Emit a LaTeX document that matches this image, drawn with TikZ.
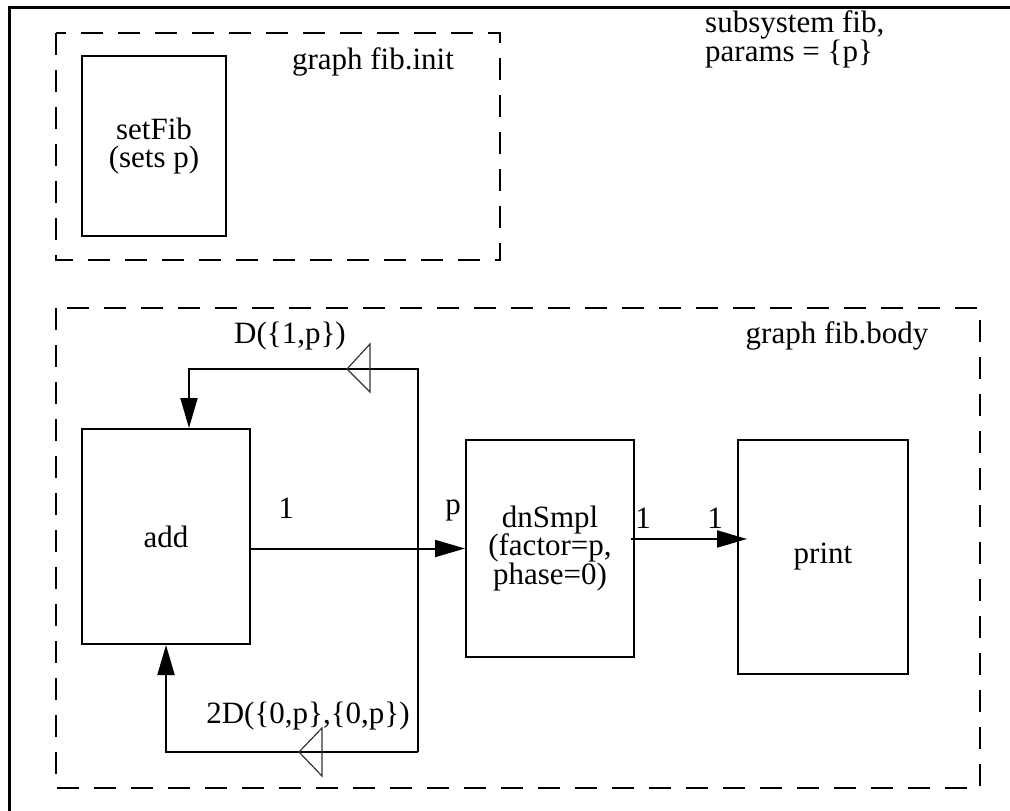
\documentclass[tikz,border=0pt]{standalone}
\usepackage{fontspec}
\setmainfont{Liberation Serif}
\usetikzlibrary{arrows.meta}
\begin{document}
\begin{tikzpicture}[x=1pt,y=-1pt,
  every node/.style={font=\fontsize{31}{28.5}\selectfont},
  blk/.style={draw,line width=2pt,inner sep=0pt,align=center},
  grp/.style={draw,line width=2.5pt,dash pattern=on 22pt off 15pt},
  arr/.style={line width=2pt,-{Triangle[length=30pt,width=17pt]}},
  delay/.style={line width=1.2pt,draw=black!80},
  lbl/.style={inner sep=0pt}
]
\useasboundingbox (0,0) rectangle (1010,811);
\clip (0,0) rectangle (1010,811);
% outer frame
\draw[line width=3pt] (9,830) -- (9,7) -- (1030,7);
% subsystem label
\node[lbl,anchor=north west,align=left,font=\fontsize{31}{25}\selectfont] (sub) at (705,10) {subsystem fib,\\params = \{p\}};
% init graph
\draw[grp] (56,33) rectangle (500,260);
\node[lbl] (ginit) at (373,62) {graph fib.init};
\node[blk,minimum width=144pt,minimum height=180pt] (setfib) at (154,146) {setFib\\(sets p)};
% body graph
\draw[grp] (56,308) rectangle (980,788);
\node[lbl] (gbody) at (837,336) {graph fib.body};
\node[blk,minimum width=168pt,minimum height=215pt] (add) at (166,536.5) {add};
\node[blk,minimum width=168pt,minimum height=217pt] (dn) at (550,548.5) {dnSmpl\\(factor=p,\\phase=0)};
\node[blk,minimum width=170pt,minimum height=234pt] (print) at (823,557) {print};
% connectors
\coordinate (tr) at (418,369);
\coordinate (br) at (418,752);
\draw[arr] (add.east |- dn.west) -- (dn.west);
\draw[arr] ([xshift=-4pt]dn.east |- 0,539) -- ([xshift=10pt]print.west |- 0,539);
\draw[arr] (br) -- (tr) -| ([xshift=23pt]add.north);
\draw[arr] (br) -| (add.south);
% delay markers
\draw[delay] (347,369) -- (370,344) -- (370,392) -- cycle;
\draw[delay] (299,752) -- (322,728) -- (322,776) -- cycle;
% labels
\node[lbl] (dl1) at (290,336) {D(\{1,p\})};
\node[lbl] (dl2) at (308,716) {2D(\{0,p\},\{0,p\})};
\node[lbl] (o1) at (286,508) {1};
\node[lbl] (ip) at (453,510) {p};
\node[lbl] (o2) at (643,518) {1};
\node[lbl] (i2) at (715,518) {1};
\end{tikzpicture}
\end{document}
